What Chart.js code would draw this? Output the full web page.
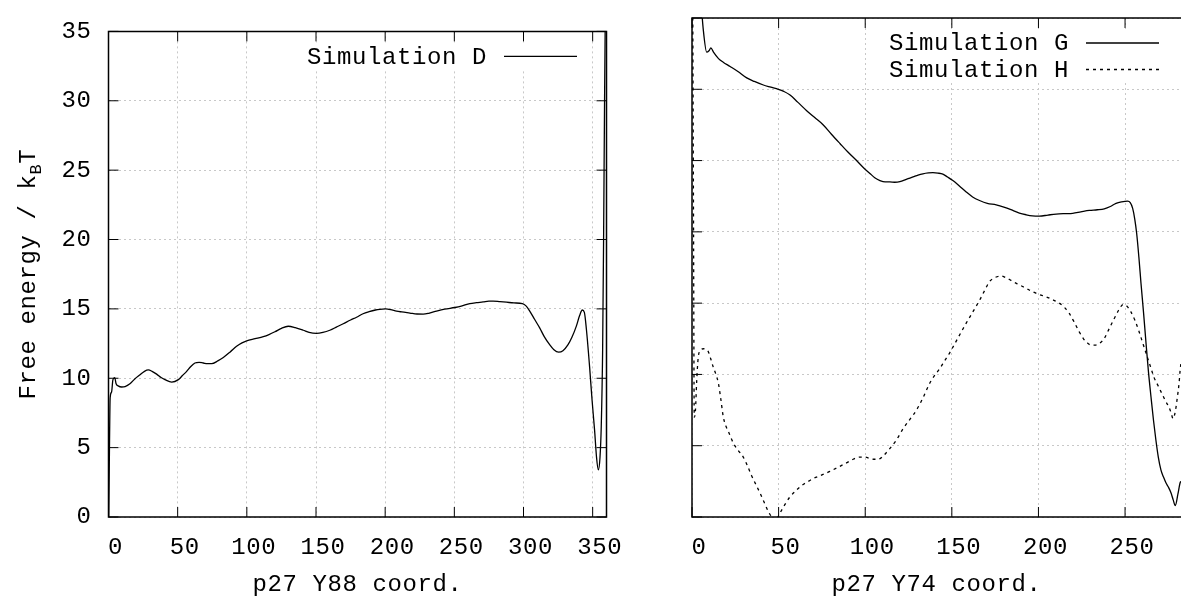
<!DOCTYPE html>
<html>
<head>
<meta charset="utf-8">
<script src="https://cdn.jsdelivr.net/npm/chart.js@4.4.1/dist/chart.umd.min.js"></script>
<style>
  html, body { margin: 0; padding: 0; background: #fff; }
  .panel { position: absolute; top: 0; height: 600px; }
  #left { left: 0; width: 650px; }
  #right { left: 650px; width: 531px; }
</style>
</head>
<body>
<div class="panel" id="left"><canvas id="chartD"></canvas></div>
<div class="panel" id="right"><canvas id="chartGH"></canvas></div>
<script>
// tick labels
const yTicks = [0, 5, 10, 15, 20, 25, 30, 35];
const xTicksD = [0, 50, 100, 150, 200, 250, 300, 350];
const xTicksGH = [0, 50, 100, 150, 200, 250];

// Simulation D (p27 Y88)
const dX = [0.1, 0.6, 1.2, 2.2, 3.2, 4.5, 5.5, 7, 9.5, 12, 15.5, 19, 22.8, 26, 28.8, 31.5, 34.8, 38, 40.8, 45.7,
  50.5, 53.5, 56.5, 59.5, 62.5, 65.5, 68.5, 71.5, 74.6, 79, 83, 88, 92.6, 96.5, 99.9, 106, 111.9, 116, 120.3, 125,
  129.9, 135, 140.8, 145, 150.4, 155, 160, 165, 169.7, 175, 179.3, 184, 188.4, 193, 196.1, 200.3, 204, 208.2, 212, 217.9,
  223, 227.5, 232, 237.1, 243, 250.4, 255, 261.2, 266, 270.8, 275, 278, 283, 287.7, 293, 299.2, 302, 304.5, 308, 311.7,
  315, 318.9, 322, 325.4, 328.5, 332.2, 335, 338.2, 340.5, 342.5, 344, 345.5, 347.8, 349.5, 351.4, 352.8, 354.1, 355.3,
  356.2, 357.2, 357.9, 358.6, 359.2];
const dY = [-1, 4, 8.6, 9.0, 9.9, 10.05, 9.6, 9.45, 9.37, 9.4, 9.6, 9.95, 10.25, 10.5, 10.6, 10.5, 10.3, 10.05, 9.9, 9.72,
  9.9, 10.2, 10.5, 10.85, 11.1, 11.15, 11.1, 11.05, 11.05, 11.25, 11.5, 11.9, 12.3, 12.55, 12.7, 12.85, 13.0, 13.15, 13.35, 13.6,
  13.75, 13.65, 13.46, 13.3, 13.23, 13.3, 13.46, 13.7, 13.93, 14.2, 14.4, 14.65, 14.8, 14.92, 14.97, 15.0, 14.95, 14.84, 14.78, 14.7,
  14.63, 14.62, 14.7, 14.84, 14.98, 15.1, 15.2, 15.38, 15.45, 15.5, 15.56, 15.56, 15.52, 15.48, 15.43, 15.38, 15.2, 14.84, 14.25, 13.63,
  13.0, 12.42, 12.05, 11.88, 11.98, 12.42, 12.95, 13.76, 14.5, 14.92, 14.75, 13.5, 10.8, 8.5, 6.24, 4.3, 3.4, 4.3,
  6.5, 12, 20, 30, 37];

// Simulation G (p27 Y74)
const gX = [5.0, 6.5, 8.5, 9.8, 10.9, 12.4, 15.3, 18, 22, 26.5, 31.6, 36, 41.2, 45.5, 49.9, 53, 56.6, 61, 66.2, 71,
  75.8, 80.5, 85.4, 90, 95, 99, 102.7, 105.5, 108.5, 111.5, 114.2, 117, 120, 124, 127.6, 130.5, 133.3, 136.5, 139.1, 142,
  144.8, 147.5, 150.6, 154.5, 158.3, 162, 166, 170.5, 175.6, 180.5, 185.2, 189, 192.9, 196.5, 200.6, 205.5, 210.2, 215, 219.8, 224.5,
  229.4, 234, 238, 241.5, 244.8, 248, 251.5, 253, 254.4, 255.6, 256.7, 258, 259.2, 260.7, 262.1, 263.5, 265, 266.4, 267.8, 269.2,
  270.7, 272.2, 273.6, 275, 276.5, 277.8, 279, 280.5, 281.8, 282.3];
const gY = [36.5, 34.2, 32.6, 32.7, 32.9, 32.6, 32.15, 31.9, 31.6, 31.25, 30.8, 30.55, 30.3, 30.15, 30.0, 29.85, 29.6, 29.1, 28.5, 28.0,
  27.5, 26.85, 26.2, 25.6, 25.0, 24.5, 24.1, 23.8, 23.6, 23.5, 23.5, 23.48, 23.52, 23.7, 23.85, 23.98, 24.07, 24.13, 24.15, 24.12,
  24.05, 23.85, 23.6, 23.2, 22.8, 22.45, 22.2, 22.0, 21.9, 21.72, 21.5, 21.32, 21.2, 21.12, 21.1, 21.18, 21.25, 21.28, 21.3, 21.4,
  21.5, 21.55, 21.62, 21.78, 22.0, 22.1, 22.15, 22.05, 21.65, 20.9, 19.9, 18.2, 16.4, 14.3, 12.2, 10.2, 8.4, 6.8, 5.4, 4.2,
  3.3, 2.8, 2.4, 2.1, 1.7, 1.2, 0.8, 1.6, 2.4, 2.5];

// Simulation H (p27 Y74)
const hX = [0.4, 0.9, 1.3, 2.0, 2.7, 3.6, 5.0, 6.5, 8.0, 9.4, 10.8, 12.3, 13.8, 15.2, 16.6, 18.1, 19.5, 21, 23.8, 26.5,
  29.6, 32, 34.4, 36.8, 39.2, 41.6, 44, 46, 47.8, 49.2, 50.7, 53.5, 56.5, 60, 63.3, 66.5, 70, 75, 79.6, 84.5,
  89.2, 93, 96.9, 100, 102.7, 105, 107.5, 110.5, 114.2, 118, 121.9, 125.8, 129.6, 133.5, 137.3, 140.2, 143, 145.8, 148.7, 153.5,
  158.3, 162.2, 166, 169, 171.7, 175, 178.4, 182.5, 187, 192, 196.6, 200.5, 204.3, 208, 212, 215, 217.7, 220.5, 223.5, 226,
  228.3, 230.7, 233.1, 235.5, 237.9, 240.8, 243.7, 246.3, 248.9, 251, 253.3, 255.7, 258.1, 260.5, 262.9, 264.8, 266.7, 269.1, 271.5, 273.5,
  275.4, 276.6, 277.7, 279, 280.2, 281.2, 281.8, 282.3];
const hY = [37, 20, 7.0, 7.5, 9.5, 11.2, 11.7, 11.8, 11.75, 11.6, 11.1, 10.5, 10.0, 9.4, 8.3, 7.0, 6.4, 6.0, 5.2, 4.7,
  4.2, 3.6, 2.9, 2.3, 1.7, 1.05, 0.4, 0.0, -0.3, -0.1, 0.25, 0.85, 1.4, 1.85, 2.2, 2.45, 2.7, 2.95, 3.2, 3.5,
  3.8, 4.05, 4.2, 4.2, 4.1, 4.05, 4.05, 4.3, 4.8, 5.4, 6.2, 6.85, 7.5, 8.4, 9.4, 9.95, 10.4, 10.95, 11.5, 12.55,
  13.6, 14.4, 15.2, 15.9, 16.5, 16.8, 16.9, 16.7, 16.4, 16.1, 15.8, 15.6, 15.45, 15.25, 15.0, 14.7, 14.3, 13.7, 13.0, 12.5,
  12.2, 12.05, 12.06, 12.2, 12.5, 13.2, 13.9, 14.5, 14.9, 14.8, 14.4, 13.8, 13.0, 12.1, 11.2, 10.5, 9.8, 9.2, 8.6, 8.1,
  7.7, 7.3, 6.9, 7.4, 8.4, 9.4, 10.3, 10.8];

const FONT = "'Liberation Mono', 'DejaVu Sans Mono', monospace";
const toPts = (xs, ys) => xs.map((x, i) => ({ x: x, y: ys[i] }));

// gnuplot look: opaque key, black frame, inward ticks, y title with subscript
const gnuplotLook = {
  id: 'gnuplotLook',
  beforeUpdate(chart) { chart.ctx.letterSpacing = '0.6px'; },
  beforeDraw(chart) { chart.ctx.letterSpacing = '0.6px'; },
  afterDatasetsDraw(chart, args, o) {
    const { ctx, chartArea: a, scales: { x, y } } = chart;
    ctx.save();
    ctx.font = '24px ' + FONT;

    // key
    const x1 = a.right - o.keyEnd, x0 = x1 - 73;
    const dsets = chart.data.datasets;
    let widest = 0;
    dsets.forEach(ds => { widest = Math.max(widest, ctx.measureText(ds.label).width); });
    ctx.fillStyle = '#fff';
    ctx.fillRect(x0 - 17 - widest - 10, a.top + 11, widest + 17 + 73 + 20, dsets.length * 26.5 + 0.5);
    ctx.fillStyle = '#000';
    ctx.strokeStyle = '#000';
    ctx.textAlign = 'right';
    ctx.textBaseline = 'middle';
    dsets.forEach((ds, i) => {
      const ly = a.top + 25 + i * 26.5;
      ctx.fillText(ds.label, x0 - 17, ly + 1);
      ctx.lineWidth = 1.3;
      ctx.setLineDash(ds.borderDash || []);
      ctx.beginPath();
      ctx.moveTo(x0, ly);
      ctx.lineTo(x1, ly);
      ctx.stroke();
    });
    ctx.setLineDash([]);

    // inward ticks
    ctx.lineWidth = 1;
    ctx.beginPath();
    x.ticks.forEach(t => {
      const px = x.getPixelForValue(t.value);
      ctx.moveTo(px, a.bottom); ctx.lineTo(px, a.bottom - 10);
      ctx.moveTo(px, a.top); ctx.lineTo(px, a.top + 10);
    });
    y.ticks.forEach(t => {
      const py = y.getPixelForValue(t.value);
      ctx.moveTo(a.left, py); ctx.lineTo(a.left + 10, py);
      if (o.rightSide) { ctx.moveTo(a.right, py); ctx.lineTo(a.right - 10, py); }
    });
    ctx.stroke();

    // frame
    ctx.lineWidth = 1.5;
    ctx.beginPath();
    if (o.rightSide) {
      ctx.moveTo(a.left, a.top); ctx.lineTo(a.right, a.top); ctx.lineTo(a.right, a.bottom);
      ctx.lineTo(a.left, a.bottom); ctx.closePath();
    } else {
      ctx.moveTo(a.right + 2, a.top); ctx.lineTo(a.left, a.top); ctx.lineTo(a.left, a.bottom); ctx.lineTo(a.right + 2, a.bottom);
    }
    ctx.stroke();

    // y title "Free energy / kBT" with subscript B
    if (o.yTitle) {
      const big = '24px ' + FONT, small = '17px ' + FONT;
      const p1 = 'Free energy / k', p2 = 'B', p3 = 'T';
      ctx.font = big; const w1 = ctx.measureText(p1).width, w3 = ctx.measureText(p3).width;
      ctx.font = small; const w2 = ctx.measureText(p2).width;
      ctx.translate(27, (a.top + a.bottom) / 2);
      ctx.rotate(-Math.PI / 2);
      ctx.textAlign = 'left';
      ctx.textBaseline = 'alphabetic';
      let sx = -(w1 + w2 + w3) / 2;
      ctx.font = big; ctx.fillText(p1, sx, 8); sx += w1;
      ctx.font = small; ctx.fillText(p2, sx, 14); sx += w2;
      ctx.font = big; ctx.fillText(p3, sx, 8);
    }
    ctx.restore();
  }
};

function xScale(ticks, max, title) {
  return {
    type: 'linear', min: 0, max: max,
    afterBuildTicks: s => { s.ticks = ticks.map(v => ({ value: v })); },
    afterFit: s => { s.height = 83; },
    grid: { color: '#c8c8c8', lineWidth: 1, drawTicks: false },
    border: { display: false, dash: [2, 3] },
    ticks: { font: { family: FONT, size: 24 }, color: '#000', padding: 16, labelOffset: 7, maxRotation: 0, autoSkip: false },
    title: { display: true, text: title, color: '#000', font: { family: FONT, size: 24 }, padding: { top: 0, bottom: 1 } }
  };
}

function yScale(width, labels) {
  return {
    type: 'linear', min: 0, max: 35,
    afterBuildTicks: s => { s.ticks = yTicks.map(v => ({ value: v })); },
    afterFit: s => { s.width = width; },
    grid: { color: '#c8c8c8', lineWidth: 1, drawTicks: false },
    border: { display: false, dash: [2, 3] },
    ticks: { display: labels, font: { family: FONT, size: 24 }, color: '#000', padding: 17 }
  };
}

function line(label, xs, ys, dash) {
  return {
    label: label, data: toPts(xs, ys), borderColor: '#000', borderWidth: 1.3, borderDash: dash,
    pointRadius: 0, fill: false, cubicInterpolationMode: 'monotone'
  };
}

document.addEventListener('DOMContentLoaded', () => {
  new Chart(document.getElementById('chartD'), {
    type: 'line',
    data: { datasets: [line('Simulation D', dX, dY, [])] },
    options: {
      responsive: true, maintainAspectRatio: false, animation: false,
      layout: { padding: { top: 18, right: 43.5, left: 0, bottom: 0 } },
      scales: { x: xScale(xTicksD, 360, 'p27 Y88 coord.'), y: yScale(108.5, true) },
      plugins: { legend: { display: false }, tooltip: { enabled: false },
        gnuplotLook: { keyEnd: 29.5, rightSide: true, yTitle: true } }
    },
    plugins: [gnuplotLook]
  });

  new Chart(document.getElementById('chartGH'), {
    type: 'line',
    data: { datasets: [line('Simulation G', gX, gY, []), line('Simulation H', hX, hY, [3, 4])] },
    options: {
      responsive: true, maintainAspectRatio: false, animation: false,
      layout: { padding: { top: 18, right: 0, left: 0, bottom: 0 } },
      scales: { x: xScale(xTicksGH, 282.3, 'p27 Y74 coord.'), y: yScale(42, false) },
      plugins: { legend: { display: false }, tooltip: { enabled: false },
        gnuplotLook: { keyEnd: 22, rightSide: false, yTitle: false } }
    },
    plugins: [gnuplotLook]
  });
});
</script>
</body>
</html>
